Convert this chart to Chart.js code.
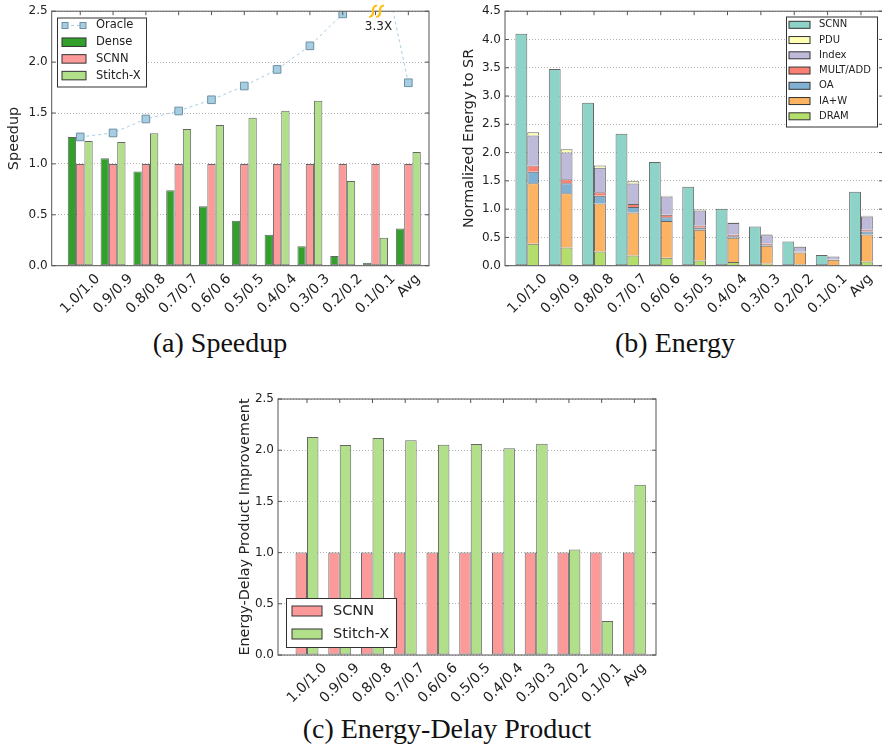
<!DOCTYPE html>
<html>
<head>
<meta charset="utf-8">
<script src="https://cdn.jsdelivr.net/npm/chart.js@4.4.1/dist/chart.umd.min.js"></script>
<style>
  html, body { margin: 0; padding: 0; background: #fff; width: 882px; height: 750px; overflow: hidden; position: relative; }
  canvas { position: absolute; }
  .cap { position: absolute; font-family: "Liberation Serif", serif; font-size: 28px; line-height: 1; color: #111; white-space: nowrap; transform: translateX(-50%); }
</style>
</head>
<body>
<canvas id="speedup" width="440" height="320" style="left:0;top:0"></canvas>
<canvas id="energy" width="450" height="320" style="left:440px;top:0"></canvas>
<canvas id="edp" width="440" height="330" style="left:220px;top:380px"></canvas>
<div class="cap" style="left:220px;top:329px">(a) Speedup</div>
<div class="cap" style="left:675px;top:329px">(b) Energy</div>
<div class="cap" style="left:447px;top:715px">(c) Energy-Delay Product</div>
<script>
var categories = ['1.0/1.0', '0.9/0.9', '0.8/0.8', '0.7/0.7', '0.6/0.6', '0.5/0.5', '0.4/0.4', '0.3/0.3', '0.2/0.2', '0.1/0.1', 'Avg'];

// (a) speedup
var oracleSpeedup = [1.265, 1.304, 1.441, 1.52, 1.63, 1.765, 1.928, 2.16, 2.474, 3.3, 1.797];
var denseSpeedup = [1.265, 1.055, 0.925, 0.742, 0.585, 0.441, 0.304, 0.19, 0.095, 0.03, 0.366];
var scnnSpeedup = [1, 1, 1, 1, 1, 1, 1, 1, 1, 1, 1];
var stitchSpeedup = [1.225, 1.216, 1.30, 1.343, 1.382, 1.454, 1.523, 1.621, 0.833, 0.275, 1.118];
var speedupTicks = [0, 0.5, 1, 1.5, 2, 2.5];

// (b) energy, normalized to SR
var scnnEnergy = [4.10, 3.476, 2.88, 2.335, 1.835, 1.394, 1.006, 0.694, 0.429, 0.188, 1.306];
var dramEnergy = [0.39, 0.32, 0.25, 0.18, 0.14, 0.094, 0.065, 0.041, 0.024, 0.006, 0.076];
var iawEnergy = [1.07, 0.96, 0.85, 0.76, 0.65, 0.54, 0.43, 0.31, 0.21, 0.10, 0.477];
var oaEnergy = [0.20, 0.18, 0.135, 0.10, 0.065, 0.035, 0.024, 0.017, 0.006, 0.006, 0.053];
var multAddEnergy = [0.11, 0.07, 0.065, 0.053, 0.047, 0.042, 0.029, 0.018, 0.006, 0.003, 0.029];
var indexEnergy = [0.53, 0.47, 0.43, 0.36, 0.32, 0.264, 0.206, 0.153, 0.088, 0.047, 0.236];
var pduEnergy = [0.06, 0.06, 0.04, 0.04, 0.017, 0.018, 0.012, 0.012, 0.006, 0.006, 0.011];
var energyTicks = [0, 0.5, 1, 1.5, 2, 2.5, 3, 3.5, 4, 4.5];

// (c) energy-delay product
var scnnEdp = [1, 1, 1, 1, 1, 1, 1, 1, 1, 1, 1];
var stitchEdp = [2.128, 2.05, 2.119, 2.096, 2.053, 2.06, 2.018, 2.063, 1.03, 0.332, 1.662];
var edpTicks = [0, 0.5, 1, 1.5, 2, 2.5];

Chart.defaults.font.family = '"DejaVu Sans", sans-serif';
Chart.defaults.color = '#222';
Chart.defaults.animation = false;
Chart.defaults.events = [];
Chart.defaults.plugins.legend.display = false;
Chart.defaults.plugins.tooltip.enabled = false;

var EDGE = 'rgba(0,0,0,0.6)';

function pts(arr) {
  return arr.map(function (v, i) { return { x: i, y: v }; });
}

function barSet(label, values, color, extra) {
  var ds = {
    label: label, data: pts(values), backgroundColor: color,
    borderColor: EDGE, borderWidth: 1, borderSkipped: false
  };
  return Object.assign(ds, extra || {});
}

// two bottom axes: "Avg" is short, so it needs a smaller label offset
// than the long labels to sit centred under its group like the original.
// the Avg axis is pinned to y = 0 so it takes no extra room.
function xAxes(min, max, height) {
  var last = categories.length - 1;
  function axis(ids, offset, position, h) {
    return {
      type: 'linear', axis: 'x', position: position, min: min, max: max, offset: false,
      grid: { display: false, drawTicks: false, offset: false },
      border: { display: false },
      afterBuildTicks: function (s) { s.ticks = ids.map(function (i) { return { value: i }; }); },
      afterFit: function (s) { s.height = h; },
      ticks: {
        autoSkip: false, minRotation: 45, maxRotation: 45, padding: 5, labelOffset: offset,
        font: { size: 14 }, color: '#222',
        callback: function (v) { return categories[v]; }
      }
    };
  }
  var longIds = categories.slice(0, last).map(function (c, i) { return i; });
  return { x: axis(longIds, 17.6, 'bottom', height), xAvg: axis([last], 9.6, { y: 0 }, 0) };
}

function yAxis(ticks, title, width, titlePad, stacked) {
  return {
    type: 'linear', min: ticks[0], max: ticks[ticks.length - 1], stacked: !!stacked,
    afterBuildTicks: function (s) { s.ticks = ticks.map(function (v) { return { value: v }; }); },
    afterFit: function (s) { s.width = width; },
    ticks: { font: { size: 12 }, color: '#222', padding: 4, callback: function (v) { return v.toFixed(1); } },
    grid: { color: '#b5b5b5', lineWidth: 1, drawTicks: false },
    border: { display: false, dash: [1, 2] },
    title: { display: true, text: title, font: { size: 14.4 }, color: '#222', padding: { top: titlePad, bottom: 0 } }
  };
}

// spines on all four sides plus inward tick marks
var framePlugin = {
  id: 'frame',
  afterDatasetsDraw: function (chart) {
    var ctx = chart.ctx, a = chart.chartArea, x = chart.scales.x, y = chart.scales.y;
    ctx.save();
    ctx.strokeStyle = '#555';
    ctx.lineWidth = 1;
    ctx.beginPath();
    y.ticks.forEach(function (t) {
      var py = y.getPixelForValue(t.value);
      ctx.moveTo(a.left, py); ctx.lineTo(a.left + 4, py);
      ctx.moveTo(a.right - 4, py); ctx.lineTo(a.right, py);
    });
    categories.forEach(function (c, i) {
      var px = x.getPixelForValue(i);
      ctx.moveTo(px, a.top); ctx.lineTo(px, a.top + 4);
    });
    ctx.stroke();
    ctx.strokeRect(a.left, a.top, a.right - a.left, a.bottom - a.top);
    ctx.restore();
  }
};

// matplotlib-like framed legend sitting inside the plot
var boxLegendPlugin = {
  id: 'boxLegend',
  afterDraw: function (chart, args, o) {
    if (!o || !o.items) return;
    var ctx = chart.ctx, a = chart.chartArea;
    var bx = o.right !== undefined ? a.right - o.right - o.w : a.left + o.left;
    var by = o.bottom !== undefined ? a.bottom - o.bottom - o.h : a.top + o.top;
    ctx.save();
    ctx.fillStyle = '#fff';
    ctx.fillRect(bx, by, o.w, o.h);
    ctx.strokeStyle = '#333';
    ctx.lineWidth = 1;
    ctx.strokeRect(bx + 0.5, by + 0.5, o.w, o.h);
    ctx.font = o.size + 'px "DejaVu Sans"';
    ctx.textBaseline = 'middle';
    o.items.forEach(function (name, i) {
      var ds = chart.data.datasets.find(function (d) { return d.label === name; });
      var ry = by + o.first + i * o.step;
      if (ds.type === 'line') {
        var x1 = bx + o.patchX + 3, x2 = bx + o.patchX + o.patchW - 3;
        ctx.strokeStyle = ds.borderColor;
        ctx.setLineDash([3, 3]);
        ctx.beginPath(); ctx.moveTo(x1, ry); ctx.lineTo(x2, ry); ctx.stroke();
        ctx.setLineDash([]);
        [x1, x2].forEach(function (cx) {
          ctx.fillStyle = ds.pointBackgroundColor;
          ctx.fillRect(cx - 3, ry - 3, 6, 6);
          ctx.strokeStyle = ds.pointBorderColor;
          ctx.strokeRect(cx - 3, ry - 3, 6, 6);
        });
      } else {
        ctx.fillStyle = ds.backgroundColor;
        ctx.fillRect(bx + o.patchX, ry - o.patchH / 2, o.patchW, o.patchH);
        ctx.strokeStyle = '#333';
        ctx.strokeRect(bx + o.patchX, ry - o.patchH / 2, o.patchW, o.patchH);
      }
      ctx.fillStyle = '#222';
      ctx.fillText(name, bx + o.textX, ry);
    });
    ctx.restore();
  }
};

Chart.register(framePlugin, boxLegendPlugin);

// axis break mark + label for the oracle value that leaves the plot
var breakMark = {
  id: 'breakMark',
  afterDraw: function (chart) {
    var ctx = chart.ctx, a = chart.chartArea, x = chart.scales.x, y = chart.scales.y;
    oracleSpeedup.forEach(function (v, i) {
      if (v <= y.max) return;
      var px = x.getPixelForValue(i) + 1;
      var py = a.top;
      ctx.save();
      ctx.strokeStyle = '#fdc010';
      ctx.lineWidth = 2.2;
      ctx.lineCap = 'round';
      [-3.5, 3.5].forEach(function (dx) {
        var cx = px + dx;
        ctx.beginPath();
        ctx.moveTo(cx + 3, py - 5.5);
        ctx.bezierCurveTo(cx - 3.5, py - 4, cx + 3.5, py + 4, cx - 3, py + 5.5);
        ctx.stroke();
      });
      ctx.fillStyle = '#222';
      ctx.font = '12px "DejaVu Sans"';
      ctx.textAlign = 'center';
      ctx.textBaseline = 'middle';
      ctx.fillText(v.toFixed(1) + 'X', px + 2, py + 15.5);
      ctx.restore();
    });
  }
};

new Chart(document.getElementById('speedup').getContext('2d'), {
  type: 'bar',
  data: {
    datasets: [
      {
        type: 'line', label: 'Oracle', data: pts(oracleSpeedup),
        borderColor: '#a6cee3', borderWidth: 1, borderDash: [3, 3],
        pointStyle: 'rect', pointRadius: 5.4, pointBackgroundColor: '#a6cee3',
        pointBorderColor: '#6f8fa3', pointBorderWidth: 1, order: 0
      },
      barSet('Dense', denseSpeedup, '#33a02c', { order: 1 }),
      barSet('SCNN', scnnSpeedup, '#fb9a99', { order: 1 }),
      barSet('Stitch-X', stitchSpeedup, '#b2df8a', { order: 1 })
    ]
  },
  options: {
    responsive: false,
    layout: { padding: { left: 0, right: 11, top: 10.7, bottom: 0 } },
    datasets: { bar: { categoryPercentage: 0.76, barPercentage: 1 } },
    scales: Object.assign(xAxes(-0.87, 10.63, 54.3), { y: yAxis(speedupTicks, 'Speedup', 51.7, 5.9) }),
    plugins: {
      boxLegend: {
        left: 5.3, top: 6.3, w: 89, h: 69, first: 8, step: 16.7,
        patchX: 5, patchW: 24, patchH: 8.5, textX: 39, size: 11.5,
        items: ['Oracle', 'Dense', 'SCNN', 'Stitch-X']
      }
    }
  },
  plugins: [breakMark]
});

new Chart(document.getElementById('energy').getContext('2d'), {
  type: 'bar',
  data: {
    datasets: [
      barSet('SCNN', scnnEnergy, '#8dd3c7', { stack: 'scnn' }),
      barSet('DRAM', dramEnergy, '#b3de69', { stack: 'stitch', borderWidth: { top: 1, left: 1, right: 1, bottom: 0 } }),
      barSet('IA+W', iawEnergy, '#fdb462', { stack: 'stitch', borderWidth: { top: 1, left: 1, right: 1, bottom: 0 } }),
      barSet('OA', oaEnergy, '#80b1d3', { stack: 'stitch', borderWidth: { top: 1, left: 1, right: 1, bottom: 0 } }),
      barSet('MULT/ADD', multAddEnergy, '#fb8072', { stack: 'stitch', borderWidth: { top: 1, left: 1, right: 1, bottom: 0 } }),
      barSet('Index', indexEnergy, '#bebada', { stack: 'stitch', borderWidth: { top: 1, left: 1, right: 1, bottom: 0 } }),
      barSet('PDU', pduEnergy, '#ffffb3', { stack: 'stitch', borderWidth: { top: 1, left: 1, right: 1, bottom: 0 } })
    ]
  },
  options: {
    responsive: false,
    layout: { padding: { left: 0, right: 7, top: 10.7, bottom: 0 } },
    datasets: { bar: { categoryPercentage: 0.71, barPercentage: 1 } },
    scales: Object.assign(xAxes(-0.668, 10.66, 54.3), { y: yAxis(energyTicks, 'Normalized Energy to SR', 65, 20.4, true) }),
    plugins: {
      boxLegend: {
        right: 6, top: 5.3, w: 91, h: 110, first: 8.3, step: 15.25,
        patchX: 3, patchW: 21, patchH: 7, textX: 33, size: 10,
        items: ['SCNN', 'PDU', 'Index', 'MULT/ADD', 'OA', 'IA+W', 'DRAM']
      }
    }
  }
});

new Chart(document.getElementById('edp').getContext('2d'), {
  type: 'bar',
  data: {
    datasets: [
      barSet('SCNN', scnnEdp, '#fb9a99'),
      barSet('Stitch-X', stitchEdp, '#b2df8a')
    ]
  },
  options: {
    responsive: false,
    layout: { padding: { left: 0, right: 4, top: 19, bottom: 0 } },
    datasets: { bar: { categoryPercentage: 0.70, barPercentage: 1 } },
    scales: Object.assign(xAxes(-0.886, 10.66, 55), { y: yAxis(edpTicks, 'Energy-Delay Product Improvement', 58, 16.4) }),
    plugins: {
      boxLegend: {
        left: 8, bottom: 8, w: 110, h: 49, first: 13, step: 23,
        patchX: 6, patchW: 30, patchH: 10, textX: 47, size: 14.5,
        items: ['SCNN', 'Stitch-X']
      }
    }
  }
});
</script>
</body>
</html>
